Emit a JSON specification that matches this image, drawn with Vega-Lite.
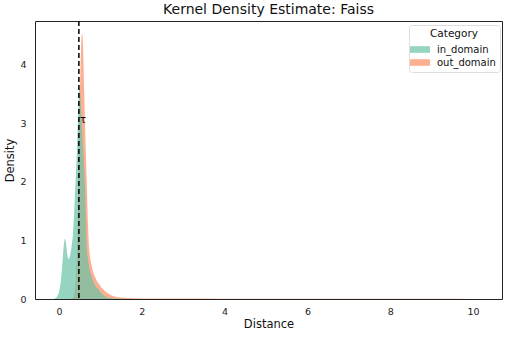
{
  "$schema": "https://vega.github.io/schema/vega-lite/v6.json",
  "width": 467,
  "height": 278,
  "autosize": {"type": "none"},
  "padding": {"left": 35, "top": 21, "right": 6, "bottom": 38},
  "background": "white",
  "config": {
    "font": "DejaVu Sans",
    "view": {"stroke": "#222", "strokeWidth": 1},
    "axis": {"grid": false, "ticks": false, "domain": false, "labelFontSize": 9.5, "labelColor": "#222", "titleFontWeight": "normal", "titleFontSize": 11.5, "titleColor": "#111"}
  },
  "title": {"text": "Kernel Density Estimate: Faiss", "fontSize": 14, "fontWeight": "normal", "color": "#111", "offset": 3},
  "datasets": {
    "kde": [
      {"category": "out_domain", "x": 0.3, "density": 0},
      {"category": "out_domain", "x": 0.36, "density": 0.05},
      {"category": "out_domain", "x": 0.4, "density": 0.3},
      {"category": "out_domain", "x": 0.44, "density": 1.0},
      {"category": "out_domain", "x": 0.48, "density": 2.4},
      {"category": "out_domain", "x": 0.51, "density": 3.7},
      {"category": "out_domain", "x": 0.54, "density": 4.4},
      {"category": "out_domain", "x": 0.56, "density": 4.54},
      {"category": "out_domain", "x": 0.58, "density": 4.35},
      {"category": "out_domain", "x": 0.61, "density": 3.5},
      {"category": "out_domain", "x": 0.64, "density": 2.7},
      {"category": "out_domain", "x": 0.67, "density": 2.0},
      {"category": "out_domain", "x": 0.7, "density": 1.3},
      {"category": "out_domain", "x": 0.73, "density": 0.85},
      {"category": "out_domain", "x": 0.78, "density": 0.6},
      {"category": "out_domain", "x": 0.87, "density": 0.38},
      {"category": "out_domain", "x": 0.97, "density": 0.25},
      {"category": "out_domain", "x": 1.1, "density": 0.14},
      {"category": "out_domain", "x": 1.25, "density": 0.07},
      {"category": "out_domain", "x": 1.4, "density": 0.035},
      {"category": "out_domain", "x": 1.7, "density": 0.015},
      {"category": "out_domain", "x": 2.0, "density": 0.01},
      {"category": "out_domain", "x": 3.0, "density": 0.007},
      {"category": "out_domain", "x": 4.0, "density": 0.006},
      {"category": "out_domain", "x": 5.0, "density": 0.005},
      {"category": "out_domain", "x": 6.0, "density": 0.004},
      {"category": "out_domain", "x": 7.0, "density": 0.004},
      {"category": "out_domain", "x": 8.0, "density": 0.003},
      {"category": "out_domain", "x": 9.0, "density": 0.003},
      {"category": "out_domain", "x": 10.0, "density": 0.002},
      {"category": "out_domain", "x": 10.2, "density": 0},
      {"category": "in_domain", "x": -0.15, "density": 0},
      {"category": "in_domain", "x": -0.1, "density": 0.01},
      {"category": "in_domain", "x": -0.05, "density": 0.04},
      {"category": "in_domain", "x": 0.0, "density": 0.12},
      {"category": "in_domain", "x": 0.05, "density": 0.35},
      {"category": "in_domain", "x": 0.08, "density": 0.6},
      {"category": "in_domain", "x": 0.11, "density": 0.88},
      {"category": "in_domain", "x": 0.14, "density": 1.03},
      {"category": "in_domain", "x": 0.17, "density": 0.95},
      {"category": "in_domain", "x": 0.2, "density": 0.76},
      {"category": "in_domain", "x": 0.23, "density": 0.68},
      {"category": "in_domain", "x": 0.26, "density": 0.72},
      {"category": "in_domain", "x": 0.3, "density": 0.88},
      {"category": "in_domain", "x": 0.34, "density": 1.13},
      {"category": "in_domain", "x": 0.38, "density": 1.7},
      {"category": "in_domain", "x": 0.43, "density": 2.5},
      {"category": "in_domain", "x": 0.47, "density": 3.3},
      {"category": "in_domain", "x": 0.49, "density": 3.62},
      {"category": "in_domain", "x": 0.52, "density": 3.45},
      {"category": "in_domain", "x": 0.55, "density": 3.0},
      {"category": "in_domain", "x": 0.58, "density": 2.6},
      {"category": "in_domain", "x": 0.61, "density": 2.2},
      {"category": "in_domain", "x": 0.63, "density": 1.9},
      {"category": "in_domain", "x": 0.65, "density": 1.35},
      {"category": "in_domain", "x": 0.67, "density": 0.9},
      {"category": "in_domain", "x": 0.7, "density": 0.68},
      {"category": "in_domain", "x": 0.74, "density": 0.5},
      {"category": "in_domain", "x": 0.79, "density": 0.38},
      {"category": "in_domain", "x": 0.88, "density": 0.22},
      {"category": "in_domain", "x": 0.97, "density": 0.15},
      {"category": "in_domain", "x": 1.05, "density": 0.08},
      {"category": "in_domain", "x": 1.15, "density": 0.03},
      {"category": "in_domain", "x": 1.3, "density": 0.01},
      {"category": "in_domain", "x": 2.0, "density": 0}
    ],
    "thr": [{"x": 0.48, "y": 3.06, "label": "τ"}]
  },
  "layer": [
    {
      "data": {"name": "kde"},
      "mark": {"type": "area", "opacity": 0.7, "interpolate": "monotone"},
      "encoding": {
        "x": {"field": "x", "type": "quantitative", "scale": {"domain": [-0.58, 10.7], "nice": false, "zero": false}, "axis": {"values": [0, 2, 4, 6, 8, 10], "format": "d", "title": "Distance", "labelPadding": 7, "titlePadding": 3}},
        "y": {"field": "density", "type": "quantitative", "stack": null, "scale": {"domain": [0, 4.75], "nice": false}, "axis": {"values": [0, 1, 2, 3, 4], "format": "d", "title": "Density", "labelPadding": 9, "titlePadding": 4}},
        "color": {"field": "category", "type": "nominal", "scale": {"domain": ["in_domain", "out_domain"], "range": ["#66c2a5", "#fc8d62"]},
          "legend": {"title": "Category", "orient": "none", "legendX": 374, "legendY": 4, "titleFontSize": 10.5, "titleFontWeight": "normal", "titleAnchor": "middle", "titlePadding": 3, "labelFontSize": 10, "titleColor": "#111", "labelColor": "#111", "symbolType": "M-1.5,-0.5H1.5V0.5H-1.5Z", "symbolSize": 178, "symbolOpacity": 0.7, "symbolStrokeWidth": 0, "labelOffset": 10, "strokeColor": "#ddd", "fillColor": "white", "padding": 4, "cornerRadius": 3, "rowPadding": 1}}
      }
    },
    {
      "data": {"name": "thr"},
      "mark": {"type": "rule", "color": "black", "strokeDash": [5, 3], "strokeWidth": 1.5},
      "encoding": {"x": {"field": "x", "type": "quantitative"}}
    },
    {
      "data": {"name": "thr"},
      "mark": {"type": "text", "align": "left", "baseline": "middle", "dx": 1, "fontSize": 10, "color": "black"},
      "encoding": {"x": {"field": "x", "type": "quantitative"}, "y": {"field": "y", "type": "quantitative"}, "text": {"field": "label"}}
    }
  ]
}
